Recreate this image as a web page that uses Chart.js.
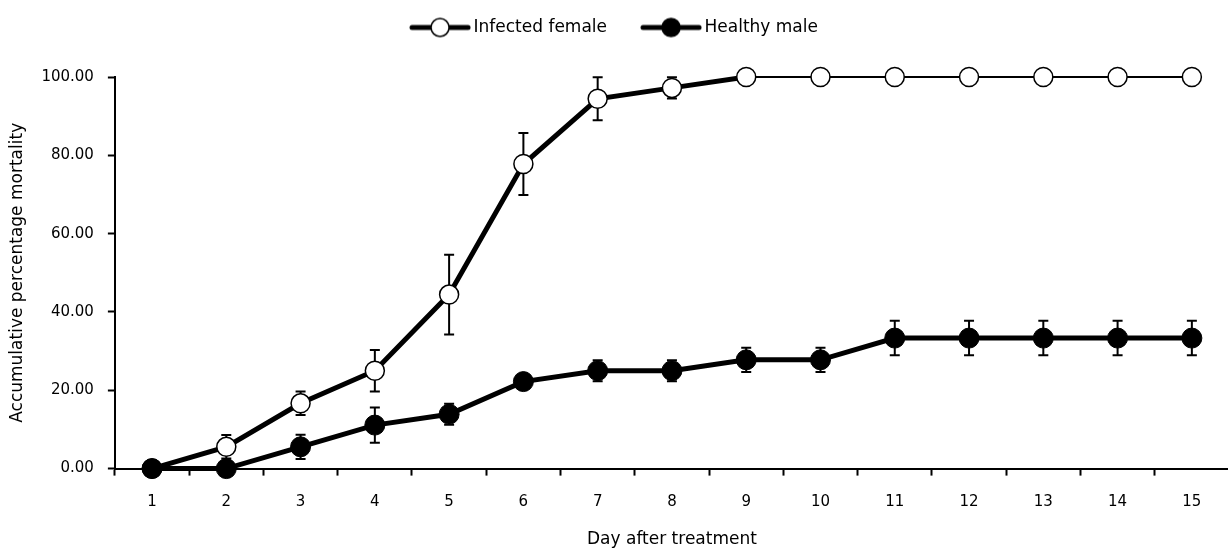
<!DOCTYPE html>
<html>
<head>
<meta charset="utf-8">
<script src="https://cdn.jsdelivr.net/npm/chart.js@4"></script>
<style>
  html,body{margin:0;padding:0;background:#fff;overflow:hidden;}
  #wrap{width:1240px;height:550px;}
</style>
</head>
<body>
<div id="wrap"><canvas id="c"></canvas></div>
<script>
// Данные
const days = ['1','2','3','4','5','6','7','8','9','10','11','12','13','14','15'];
const femaleVals = [0, 5.56, 16.67, 25, 44.44, 77.78, 94.44, 97.22, 100, 100, 100, 100, 100, 100, 100];
const femaleErr  = [0, 3.0, 3.0, 5.3, 10.2, 7.9, 5.5, 2.7, 0, 0, 0, 0, 0, 0, 0];
const maleVals   = [0, 0, 5.56, 11.11, 13.89, 22.22, 25, 25, 27.78, 27.78, 33.33, 33.33, 33.33, 33.33, 33.33];
const maleErr    = [0, 0, 3.1, 4.5, 2.7, 0, 2.7, 2.7, 3.1, 3.1, 4.4, 4.4, 4.4, 4.4, 4.4];
const yTicks     = [0, 20, 40, 60, 80, 100];

const FONT = 'DejaVu Sans';

// значок легенды: линия + кружок
function legendIcon(fill){
  const cv = document.createElement('canvas');
  cv.width = 62; cv.height = 22;
  const g = cv.getContext('2d');
  g.strokeStyle = '#000'; g.lineWidth = 5; g.lineCap = 'round';
  g.beginPath(); g.moveTo(3,11); g.lineTo(59,11); g.stroke();
  g.beginPath(); g.arc(31,11,9,0,Math.PI*2);
  g.fillStyle = fill; g.fill();
  g.lineWidth = 1.5; g.stroke();
  return cv;
}

// усы ошибок
const errorBars = {
  id:'errorBars',
  beforeDatasetsDraw(chart){
    const {ctx, scales:{x, y}} = chart;
    const sets = [[femaleVals, femaleErr], [maleVals, maleErr]];
    ctx.save();
    ctx.strokeStyle = '#000'; ctx.lineWidth = 2;
    sets.forEach(([vals, errs]) => {
      vals.forEach((v, i) => {
        if (!errs[i]) return;
        const px = x.getPixelForValue(i);
        const top = y.getPixelForValue(v + errs[i]);
        const bot = y.getPixelForValue(v - errs[i]);
        ctx.beginPath();
        ctx.moveTo(px, top); ctx.lineTo(px, bot);
        ctx.moveTo(px-5, top); ctx.lineTo(px+5, top);
        ctx.moveTo(px-5, bot); ctx.lineTo(px+5, bot);
        ctx.stroke();
      });
    });
    ctx.restore();
  }
};

// отступ под легендой
const legendGap = {
  id:'legendGap',
  beforeInit(chart){
    const fit = chart.legend.fit;
    chart.legend.fit = function(){
      fit.call(this);
      this.height += 31;
    };
  }
};

const icons = [legendIcon('#fff'), legendIcon('#000')];

new Chart(document.getElementById('c'), {
  type:'line',
  data:{
    labels: days,
    datasets:[
      {
        label:'Infected female', data: femaleVals, order:1,
        borderColor:'#000', borderWidth:5,
        segment:{ borderWidth: c => c.p0DataIndex >= 8 ? 2 : 5 },
        pointRadius:9.5, pointHoverRadius:9.5, pointBackgroundColor:'#fff',
        pointBorderColor:'#000', pointBorderWidth:1.5, clip:false
      },
      {
        label:'Healthy male', data: maleVals, order:0,
        borderColor:'#000', borderWidth:5,
        pointRadius:10, pointHoverRadius:10, pointBackgroundColor:'#000',
        pointBorderColor:'#000', pointBorderWidth:1, clip:false
      }
    ]
  },
  options:{
    responsive:true, maintainAspectRatio:false, animation:false,
    layout:{padding:{left:0, right:7, top:-20, bottom:0}},
    plugins:{
      tooltip:{enabled:false},
      legend:{
        position:'top',
        labels:{
          usePointStyle:true, pointStyleWidth:50, boxHeight:22,
          color:'#000', font:{family:FONT, size:17}, padding:39,
          generateLabels: chart => chart.data.datasets.map((d,i) => ({
            text:d.label, pointStyle:icons[i], datasetIndex:i,
            fillStyle:'#000', strokeStyle:'#000', lineWidth:0, fontColor:'#000'
          }))
        }
      }
    },
    scales:{
      x:{
        offset:true,
        grid:{offset:true, drawOnChartArea:false, tickLength:7, tickWidth:2, tickColor:'#000'},
        border:{color:'#000', width:2},
        ticks:{color:'#000', font:{family:FONT, size:15}, padding:18, maxRotation:0},
        title:{display:true, text:'Day after treatment', color:'#000', font:{family:FONT, size:17}, padding:{top:0, bottom:0}}
      },
      y:{
        min:0, max:100,
        afterBuildTicks: ax => { ax.ticks = yTicks.map(v => ({value:v})); },
        grid:{drawOnChartArea:false, tickLength:7, tickWidth:2, tickColor:'#000'},
        border:{color:'#000', width:2},
        ticks:{color:'#000', font:{family:FONT, size:15}, padding:14, callback: v => Number(v).toFixed(2)},
        title:{display:true, text:'Accumulative percentage mortality', color:'#000', font:{family:FONT, size:17}, padding:{top:7, bottom:0}}
      }
    }
  },
  plugins:[errorBars, legendGap]
});
</script>
</body>
</html>
